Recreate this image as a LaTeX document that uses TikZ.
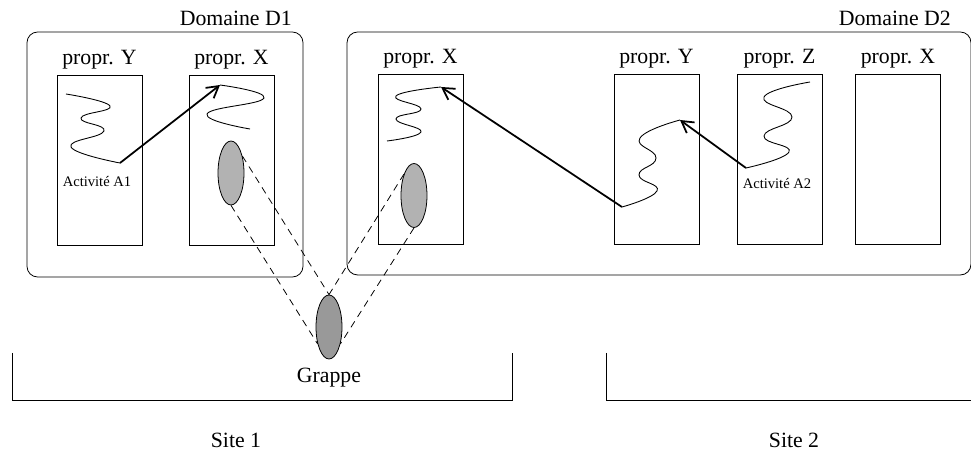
\documentclass[tikz,border=0pt]{standalone}
\usepackage{fontspec}
\setmainfont{Liberation Serif}
\usetikzlibrary{positioning,shapes.geometric,arrows.meta}

\tikzset{
  domaine/.style={draw, rounded corners=6pt, line width=0.45pt, inner sep=0pt, outer sep=0pt},
  propbox/.style={draw, line width=0.45pt, minimum width=1.7cm, minimum height=3.4cm, inner sep=0pt, outer sep=0pt},
  titre/.style={font=\fontsize{12.4}{14}\selectfont, inner sep=2pt},
  petit/.style={font=\fontsize{8.3}{10}\selectfont, inner sep=1pt},
  objet/.style={ellipse, draw, line width=0.45pt, minimum width=0.52cm, minimum height=1.28cm, inner sep=0pt, fill=black!30},
  trace/.style={line width=0.5pt, smooth, tension=0.85},
  appel/.style={line width=1pt, -{Straight Barb[length=6.5pt,width=7.5pt]}},
  lien/.style={line width=0.45pt, dash pattern=on 4pt off 3pt},
}

\begin{document}
\begin{tikzpicture}[x=0.02cm, y=-0.02cm]
\useasboundingbox (0,0) rectangle (971,452);

% domaines
\node[domaine, minimum width=5.52cm, minimum height=4.9cm] (d1) at (165,154.5) {};
\node[domaine, minimum width=12.48cm, minimum height=4.86cm] (d2) at (659,153.5) {};
\node[titre, above left=1.4pt and 4.2pt of d1.north east] (d1t) {Domaine D1};
\node[titre, above left=1.4pt and 9.3pt of d2.north east] (d2t) {Domaine D2};

% proprietes
\node[propbox] (py1) at (99.5,160) {};
\node[propbox] (px1) at (231.5,160) {};
\node[propbox] (px2) at (420.5,159) {};
\node[propbox] (py2) at (656.5,159) {};
\node[propbox] (pz2) at (779.5,159) {};
\node[propbox] (px3) at (898,159) {};

\node[titre, above=1pt of py1] {propr. Y};
\node[titre, above=1pt of px1] {propr. X};
\node[titre, above=1pt of px2] {propr. X};
\node[titre, above=1pt of py2] {propr. Y};
\node[titre, above=1pt of pz2] {propr. Z};
\node[titre, above=1pt of px3] {propr. X};

% activites
\coordinate (a1) at (120,163);
\coordinate (x1) at (220,85);
\coordinate (x2) at (441,87);
\coordinate (y2) at (622,207);
\coordinate (y2h) at (680,120);
\coordinate (a2) at (746,168);

\draw[trace] plot coordinates {(66,94) (110,106) (81,118) (104,131) (71,147) (a1)};
\draw[trace] plot coordinates {(x1) (264,98) (207,114) (250,129)};
\draw[trace] plot coordinates {(x2) (396,96) (421,109) (396,119) (421,132) (387,141)};
\draw[trace] plot coordinates {(y2) (657,191) (639,175) (656,158) (640,138) (y2h)};
\draw[trace] plot coordinates {(810,82) (764,97) (792,117) (764,136) (789,152) (a2)};

\node[petit] (a1t) at (97,182) {Activité A1};
\node[petit] (a2t) at (777,184) {Activité A2};

\draw[appel] (a1) -- (x1);
\draw[appel] (y2) -- (x2);
\draw[appel] (a2) -- (y2h);

% grappe
\node[objet] (e1) at (231,173) {};
\node[objet] (e2) at (414,195.5) {};
\node[objet, fill=black!40] (g) at (329,327) {};
\node[titre, below=3pt of g] (gt) {Grappe};

\draw[lien] (e1.56) -- (g.north);
\draw[lien] (e1.south) -- (g.236);
\draw[lien] (e2.115) -- (g.north);
\draw[lien] (e2.south) -- (g.-56);

% sites
\draw[line width=0.45pt] (12,353) |- (512,400) -- (512,353);
\draw[line width=0.45pt] (606,353) |- (975,400);
\node[titre] (s1) at (236,440) {Site 1};
\node[titre] (s2) at (794,440) {Site 2};
\end{tikzpicture}
\end{document}
